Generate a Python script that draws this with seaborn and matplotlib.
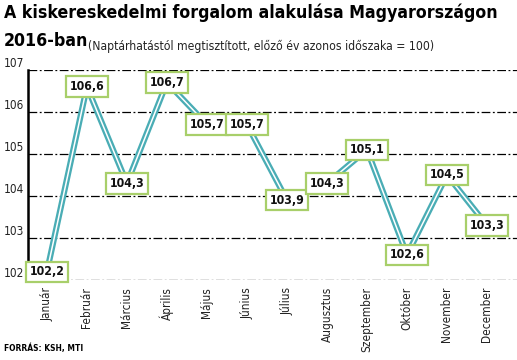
import matplotlib
matplotlib.use("Agg")
import matplotlib.pyplot as plt
import seaborn as sns
import pandas as pd

# Data
months = ["Január", "Február", "Március", "Április", "Május", "Június",
          "Július", "Augusztus", "Szeptember", "Október", "November", "December"]
values = [102.2, 106.6, 104.3, 106.7, 105.7, 105.7, 103.9, 104.3, 105.1, 102.6, 104.5, 103.3]
labels = ["102,2", "106,6", "104,3", "106,7", "105,7", "105,7",
          "103,9", "104,3", "105,1", "102,6", "104,5", "103,3"]
yticks = [102, 103, 104, 105, 106, 107]

df = pd.DataFrame({"x": range(len(months)), "v": values})

sns.set_theme(style="white")
plt.rcParams["font.family"] = ["DejaVu Sans"]
plt.rcParams["font.stretch"] = "condensed"

fig = plt.figure(figsize=(5.17, 3.60), dpi=100)
ax = fig.add_axes([0.054, 0.222, 0.946, 0.584])

teal = "#4aadb5"
sns.lineplot(data=df, x="x", y="v", color=teal, lw=4.4, ax=ax, zorder=3)
sns.lineplot(data=df, x="x", y="v", color="white", lw=1.1, ax=ax, zorder=4)

for i, (v, t) in enumerate(zip(values, labels)):
    ax.text(i, v, t, ha="center", va="center", fontsize=8.8, fontweight="bold",
            fontstretch="condensed", color="#111111", zorder=5,
            bbox=dict(boxstyle="square,pad=0.3", fc="white", ec="#a8cf6a", lw=1.6))

ax.set_xlim(-0.475, 11.75)
ax.set_ylim(102, 107)
ax.set_yticks(yticks)
ax.set_yticklabels([str(y) for y in yticks], fontsize=8.5, color="#222222",
                   fontstretch="condensed", va="bottom")
ax.set_xticks(range(len(months)))
ax.set_xticklabels(months, rotation=90, fontsize=8.5, color="#222222",
                   fontstretch="condensed")
ax.tick_params(axis="y", length=0, pad=3)
ax.tick_params(axis="x", length=0, pad=5)
ax.set_xlabel("")
ax.set_ylabel("")

ax.grid(axis="y", color="black", linestyle=(0, (7, 2, 1.5, 2)), lw=0.9)
ax.grid(axis="x", visible=False)
for side in ["top", "right", "bottom"]:
    ax.spines[side].set_visible(False)
ax.spines["left"].set_color("black")
ax.spines["left"].set_linewidth(1.8)

fig.text(0.008, 0.99, "A kiskereskedelmi forgalom alakulása Magyarországon",
         fontsize=12.7, fontweight="bold", fontstretch="condensed",
         va="top", ha="left", color="black")
fig.text(0.008, 0.912, "2016-ban", fontsize=12.7, fontweight="bold",
         fontstretch="condensed", va="top", ha="left", color="black")
fig.text(0.17, 0.872, "(Naptárhatástól megtisztított, előző év azonos időszaka = 100)",
         fontsize=8.7, fontstretch="condensed", va="center", ha="left", color="#222222")
fig.text(0.008, 0.032, "FORRÁS: KSH, MTI", fontsize=6, fontweight="bold",
         fontstretch="condensed", va="center", ha="left", color="black")

fig.savefig("out.png", dpi=100)
